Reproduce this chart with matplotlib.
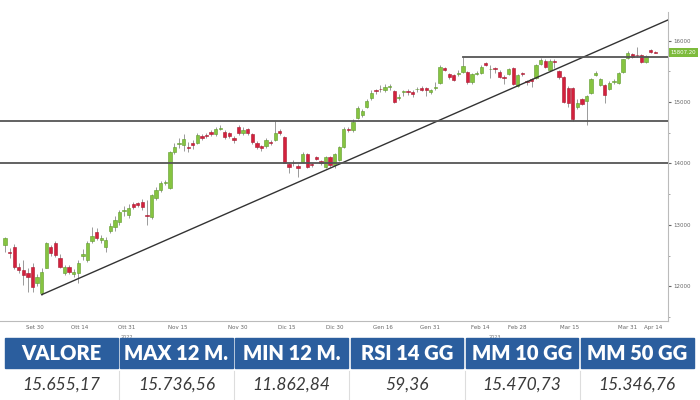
import matplotlib.pyplot as plt
import matplotlib.transforms as mtransforms
from matplotlib.patches import Rectangle

# daily candles (open, high, low, close)
opens = [12672, 12560, 12640, 12314, 12265, 12216, 12314, 12053, 11890, 12297,
         12640, 12705, 12461, 12216, 12314, 12200, 12216, 12490, 12428, 12738,
         12884, 12750, 12640, 12900, 12966, 13047, 13220, 13160, 13340, 13350,
         13372, 13160, 13128, 13438, 13568, 13680, 13600, 14186, 14310, 14302,
         14270, 14330, 14334, 14450, 14460, 14510, 14480, 14570, 14513, 14500,
         14410, 14594, 14497, 14562, 14480, 14334, 14280, 14285, 14350, 14383,
         14530, 14432, 13992, 14010, 13960, 14025, 14155, 13980, 14100, 14040,
         13943, 14106, 13976, 14057, 14268, 14570, 14546, 14741, 14790, 14920,
         15067, 15200, 15215, 15197, 15240, 15181, 15060, 15165, 15170, 15170,
         15210, 15230, 15225, 15160, 15240, 15311, 15560, 15458, 15440, 15460,
         15490, 15490, 15327, 15470, 15474, 15630, 15540, 15545, 15490, 15410,
         15458, 15555, 15262, 15470, 15340, 15370, 15392, 15620, 15669, 15523,
         15670, 15506, 15409, 15230, 15230, 14920, 15050, 15020, 15148, 15440,
         15278, 15278, 15213, 15320, 15311, 15490, 15718, 15783, 15770, 15767,
         15653, 15849, 15816]
highs = [12810, 12620, 12688, 12380, 12428, 12300, 12379, 12200, 12297, 12720,
         12680, 12730, 12520, 12340, 12350, 12280, 12430, 12600, 12740, 12960,
         12950, 12830, 12800, 13030, 13150, 13240, 13300, 13340, 13380, 13380,
         13420, 13400, 13500, 13620, 13720, 13730, 14200, 14330, 14420, 14480,
         14350, 14380, 14500, 14480, 14500, 14540, 14600, 14620, 14540, 14520,
         14440, 14620, 14600, 14580, 14500, 14360, 14300, 14420, 14380, 14692,
         14560, 14450, 14000, 14060, 13990, 14180, 14170, 14010, 14130, 14060,
         14130, 14120, 14170, 14290, 14590, 14600, 14720, 14940, 14890, 15050,
         15190, 15220, 15280, 15290, 15300, 15200, 15130, 15200, 15210, 15190,
         15240, 15260, 15240, 15220, 15330, 15600, 15580, 15480, 15460, 15520,
         15736, 15510, 15480, 15500, 15600, 15660, 15600, 15570, 15520, 15440,
         15560, 15570, 15460, 15490, 15360, 15390, 15620, 15720, 15700, 15700,
         15700, 15530, 15420, 15260, 15250, 15050, 15070, 15120, 15390, 15500,
         15400, 15290, 15340, 15380, 15490, 15710, 15830, 15800, 15897, 15780,
         15770, 15870, 15830]
lows = [12566, 12460, 12282, 12220, 12021, 11907, 11907, 12000, 11862, 12290,
        12500, 12480, 12290, 12180, 12200, 12150, 12053, 12430, 12400, 12700,
        12750, 12700, 12558, 12860, 12900, 13000, 13150, 13110, 13260, 13290,
        13250, 13000, 13100, 13400, 13540, 13650, 13590, 14150, 14260, 14200,
        14180, 14230, 14310, 14390, 14410, 14450, 14450, 14540, 14400, 14420,
        14330, 14470, 14470, 14470, 14320, 14230, 14200, 14250, 14300, 14360,
        14470, 14000, 13845, 13960, 13780, 14000, 13920, 13940, 14050, 13980,
        13920, 13950, 13930, 14040, 14250, 14510, 14520, 14720, 14760, 14900,
        15040, 15140, 15170, 15160, 15200, 14980, 15040, 15100, 15120, 15080,
        15170, 15180, 15100, 15140, 15200, 15290, 15500, 15380, 15340, 15430,
        15470, 15300, 15300, 15440, 15450, 15590, 15400, 15480, 15390, 15300,
        15440, 15280, 15240, 15420, 15280, 15250, 15370, 15600, 15550, 15500,
        15560, 15380, 14980, 14920, 14700, 14880, 14950, 14630, 15130, 15420,
        15260, 14985, 15190, 15300, 15290, 15470, 15700, 15720, 15740, 15630,
        15640, 15800, 15800]
closes = [12786, 12540, 12314, 12265, 12183, 12150, 11988, 12150, 12232, 12705,
          12542, 12510, 12314, 12314, 12232, 12230, 12379, 12530, 12705, 12819,
          12786, 12780, 12754, 12982, 13080, 13210, 13250, 13275, 13291, 13330,
          13291, 13150, 13486, 13568, 13682, 13700, 14186, 14268, 14340, 14399,
          14260, 14300, 14464, 14420, 14440, 14480, 14562, 14575, 14432, 14440,
          14380, 14497, 14546, 14497, 14350, 14268, 14260, 14383, 14330, 14497,
          14500, 14008, 13943, 14005, 13930, 14155, 13943, 13975, 14070, 14000,
          14106, 13976, 14155, 14268, 14562, 14540, 14676, 14904, 14855, 15018,
          15148, 15180, 15210, 15246, 15260, 15002, 15090, 15170, 15165, 15140,
          15215, 15200, 15200, 15190, 15245, 15571, 15530, 15409, 15360, 15480,
          15588, 15327, 15458, 15475, 15571, 15610, 15540, 15540, 15409, 15405,
          15539, 15295, 15441, 15450, 15320, 15350, 15604, 15686, 15571, 15669,
          15665, 15409, 15002, 14986, 14725, 14986, 14970, 15100, 15376, 15470,
          15376, 15116, 15311, 15345, 15474, 15702, 15800, 15734, 15766, 15653,
          15751, 15816, 15808]

last_price = "15807.20"
low_day, low_value = 8, 11862.84          # start of trend line (12-month low)
trend_end_day, trend_end_value = 145, 16345
top_day, top_value = 100, 15736.56        # 12-month high, resistance
supports = [14700, 14000]

date_labels = ["Set 30", "Ott 14", "Ott 31", "Nov 15", "Nov 30", "Dic 15", "Dic 30",
               "Gen 16", "Gen 31", "Feb 14", "Feb 28", "Mar 15", "Mar 31", "Apr 14"]
date_label_days = [6.5, 16.4, 26.6, 37.8, 50.9, 61.6, 72.1, 82.5, 92.8, 103.7,
                   111.8, 123.4, 136.0, 141.5]
years = ["2022", "2023"]
year_days = [26.6, 107]

headers = ["VALORE", "MAX 12 M.", "MIN 12 M.", "RSI 14 GG", "MM 10 GG", "MM 50 GG"]
values = ["15.655,17", "15.736,56", "11.862,84", "59,36", "15.470,73", "15.346,76"]

GREEN = "#86c440"
GREEN_EDGE = "#5f9a2c"
RED = "#d4213d"
RED_EDGE = "#a81830"
BLUE = "#2b5e9e"

fig = plt.figure(figsize=(7, 4), dpi=100)
ax = fig.add_axes([0, 1 - 321 / 400, 668 / 700, 309 / 400])

days = list(range(len(closes)))
for d, o, h, l, c in zip(days, opens, highs, lows, closes):
    up = c >= o
    ax.vlines(d, l, h, color="#9a9a9a", lw=0.7, zorder=2)
    height = max(abs(c - o), 14)
    bottom = min(o, c) if abs(c - o) >= 14 else (o + c) / 2 - 7
    ax.bar(d, height, bottom=bottom, width=0.72,
           color=GREEN if up else RED, edgecolor=GREEN_EDGE if up else RED_EDGE,
           linewidth=0.4, zorder=3)

# trend line and horizontal levels
ax.plot([low_day, trend_end_day], [low_value, trend_end_value], color="#333333", lw=1.0, zorder=4)
ax.plot([top_day, 145], [top_value, top_value], color="#555555", lw=1.3, zorder=4)
for s in supports:
    ax.axhline(s, color="#555555", lw=1.3, zorder=4)

ax.set_xlim(-1.1, 144.8)
ax.set_ylim(11434, 16468)

for side in ["left", "top"]:
    ax.spines[side].set_visible(False)
for side in ["right", "bottom"]:
    ax.spines[side].set_color("#bbbbbb")
    ax.spines[side].set_linewidth(0.8)

ax.yaxis.tick_right()
ax.set_yticks([12000, 13000, 14000, 15000, 16000])
ax.set_yticks([11500, 12500, 13500, 14500, 15500, 16000], minor=True)
ax.tick_params(axis="y", which="major", labelsize=4, colors="#666666", length=2, pad=2)
ax.tick_params(axis="y", which="minor", length=1.5, colors="#999999")
ax.set_xticks(date_label_days)
ax.set_xticklabels(date_labels)
ax.tick_params(axis="x", labelsize=4, colors="#666666", length=0, pad=3)

xform = mtransforms.blended_transform_factory(ax.transData, ax.transAxes)
for y, d in zip(years, year_days):
    ax.text(d, -0.045, y, transform=xform, fontsize=3.5, color="#777777", ha="center", va="top")

yform = mtransforms.blended_transform_factory(ax.transAxes, ax.transData)
ax.text(1.004, closes[-1], last_price, transform=yform, fontsize=3.9, color="white",
        va="center", ha="left",
        bbox=dict(boxstyle="square,pad=0.3", fc="#7dbb3c", ec="none"))

# table with key figures
tab = fig.add_axes([0, 0, 1, 65 / 400])
tab.set_xlim(0, 700)
tab.set_ylim(65, 0)
tab.axis("off")
col_w = 112.5
for i, (hd, val) in enumerate(zip(headers, values)):
    x0 = 5 + i * (col_w + 2.7)
    tab.add_patch(Rectangle((x0, 3), col_w, 30, color=BLUE))
    tab.text(x0 + col_w / 2, 18.5, hd, color="white", fontsize=14.5, fontweight="heavy",
             family="Lato", ha="center", va="center")
    tab.text(x0 + col_w / 2, 50, val, color="#3a3a3a", fontsize=12.5, style="italic",
             family="Lato", ha="center", va="center")
    if i > 0:
        tab.plot([x0 - 1.3, x0 - 1.3], [36, 65], color="#dddddd", lw=0.8)

fig.savefig("out.png", dpi=100)
